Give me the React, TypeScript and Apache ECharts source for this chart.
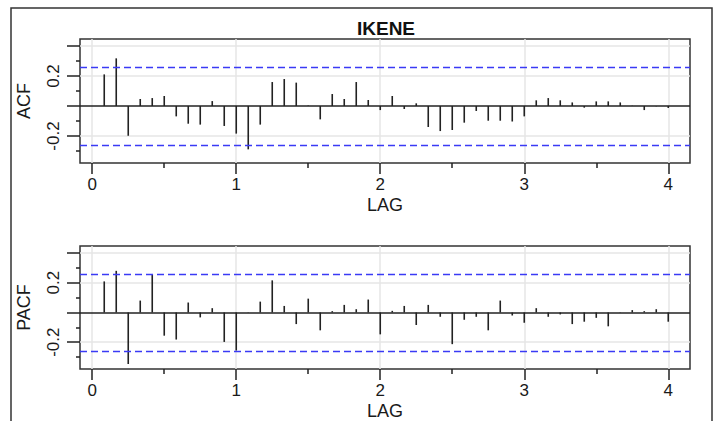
import React, { useEffect, useRef } from "react";
import * as echarts from "echarts";

const TITLE = "IKENE";
const ACF = [
  0.211, 0.318, -0.198, 0.047, 0.053, 0.067, -0.069, -0.118, -0.124, 0.033, -0.133, -0.184,
  -0.289, -0.124, 0.16, 0.18, 0.156, 0.003, -0.089, 0.08, 0.047, 0.16, 0.04, -0.027,
  0.067, -0.02, 0.018, -0.14, -0.167, -0.16, -0.111, -0.033, -0.098, -0.098, -0.104, -0.069,
  0.038, 0.053, 0.038, 0.024, -0.011, 0.031, 0.031, 0.024, 0.002, -0.027, -0.002, -0.013,
];
const PACF = [
  0.209, 0.28, -0.347, 0.08, 0.258, -0.156, -0.182, 0.067, -0.033, 0.029, -0.198, -0.256,
  0.002, 0.073, 0.216, 0.044, -0.078, 0.093, -0.12, 0.009, 0.051, 0.022, 0.087, -0.147,
  0.011, 0.044, -0.084, 0.051, -0.029, -0.213, -0.049, -0.029, -0.12, 0.08, -0.02, -0.069,
  0.029, -0.029, -0.013, -0.078, -0.062, -0.036, -0.093, 0.002, 0.016, 0.009, 0.022, -0.062,
];
const LAGS = ACF.map((_, i) => (i + 1) / 12);
const CONF = 0.257;
const X_TICKS = [0, 1, 2, 3, 4];
const X_MINOR = [0.5, 1.5, 2.5, 3.5];
const Y_TICKS = [-0.2, 0, 0.2, 0.4];
const Y_MINOR = [-0.3, -0.1, 0.1, 0.3];
const Y_LABELS = [-0.2, 0.2];
const H_GRID = [0.4, 0.2, -0.2];
const PANEL_NAMES = ["ACF", "PACF"];

const FONT = "Liberation Sans, Arial, sans-serif";
const X_MIN = -0.085;
const X_MAX = 4.151;
const Y_MIN = -0.38;
const Y_MAX = 0.447;

export default function App() {
  const ref = useRef<HTMLDivElement>(null);
  useEffect(() => {
    if (!ref.current) return;
    const chart = echarts.init(ref.current, undefined, { renderer: "svg" });
    const tops = [39, 246];
    const grids = tops.map((t) => ({
      left: 80,
      right: 29,
      top: t,
      height: 124,
      show: true,
      borderColor: "#333",
      borderWidth: 1.5,
      backgroundColor: "transparent",
    }));
    const xAxis: any[] = [];
    const yAxis: any[] = [];
    const series: any[] = [];
    [ACF, PACF].forEach((vals, g) => {
      xAxis.push({
        type: "value",
        gridIndex: g,
        position: "bottom",
        min: X_MIN,
        max: X_MAX,
        axisLine: { show: false, onZero: false },
        splitLine: { show: false },
        axisTick: { show: true, customValues: X_TICKS, length: 11, lineStyle: { color: "#222", width: 1.5 } },
        axisLabel: { customValues: X_TICKS, fontSize: 17, margin: 13, color: "#1a1a1a", fontFamily: FONT },
        name: "LAG",
        nameLocation: "middle",
        nameGap: 33,
        nameTextStyle: { fontSize: 18, color: "#1a1a1a", fontFamily: FONT },
      });
      xAxis.push({
        type: "value",
        gridIndex: g,
        position: "bottom",
        min: X_MIN,
        max: X_MAX,
        axisLine: { show: false, onZero: false },
        splitLine: { show: false },
        axisTick: { show: true, customValues: X_MINOR, length: 5, lineStyle: { color: "#222", width: 1.5 } },
        axisLabel: { show: false },
      });
      yAxis.push({
        type: "value",
        gridIndex: g,
        position: "left",
        min: Y_MIN,
        max: Y_MAX,
        axisLine: { show: false, onZero: false },
        splitLine: { show: false },
        axisTick: { show: true, customValues: Y_TICKS, length: 13, lineStyle: { color: "#222", width: 1.5 } },
        axisLabel: {
          customValues: Y_LABELS,
          rotate: 90,
          fontSize: 17,
          margin: 18,
          color: "#1a1a1a",
          fontFamily: FONT,
          formatter: (v: number) => String(v),
        },
        name: PANEL_NAMES[g],
        nameLocation: "middle",
        nameRotate: 90,
        nameGap: 47,
        nameTextStyle: { fontSize: 18, color: "#1a1a1a", fontFamily: FONT },
      });
      yAxis.push({
        type: "value",
        gridIndex: g,
        position: "left",
        min: Y_MIN,
        max: Y_MAX,
        axisLine: { show: false, onZero: false },
        splitLine: { show: false },
        axisTick: { show: true, customValues: Y_MINOR, length: 4, lineStyle: { color: "#222", width: 1.5 } },
        axisLabel: { show: false },
      });
      const xi = g * 2;
      const yi = g * 2;
      series.push({
        type: "line",
        xAxisIndex: xi,
        yAxisIndex: yi,
        data: [],
        z: 1,
        silent: true,
        markLine: {
          z: 1,
          silent: true,
          symbol: ["none", "none"],
          label: { show: false },
          lineStyle: { color: "#e6e6e6", width: 1.5, type: "solid" },
          data: [
            ...H_GRID.map((v) => ({ yAxis: v })),
            ...X_TICKS.map((v) => ({ xAxis: v })),
          ],
        },
      });
      series.push({
        type: "bar",
        xAxisIndex: xi,
        yAxisIndex: yi,
        z: 3,
        barWidth: 1.6,
        itemStyle: { color: "#222" },
        data: LAGS.map((l, i) => [l, vals[i]]),
        markLine: {
          z: 4,
          silent: true,
          symbol: ["none", "none"],
          label: { show: false },
          data: [
            { yAxis: 0, lineStyle: { color: "#222", width: 1.5, type: "solid" } },
            { yAxis: CONF, lineStyle: { color: "#3a3af5", width: 1.3, type: [7, 4] } },
            { yAxis: -CONF, lineStyle: { color: "#3a3af5", width: 1.3, type: [7, 4] } },
          ],
        },
      });
    });
    chart.setOption({
      animation: false,
      backgroundColor: "#ffffff",
      textStyle: { fontFamily: FONT },
      title: {
        text: TITLE,
        left: 381,
        top: 14,
        textAlign: "center",
        textStyle: { fontSize: 19, fontWeight: "bold", color: "#111", fontFamily: FONT },
      },
      grid: grids,
      xAxis,
      yAxis,
      series,
      graphic: [
        {
          type: "rect",
          shape: { x: 11, y: 8, width: 701, height: 440 },
          style: { fill: "none", stroke: "#333", lineWidth: 1.5 },
          silent: true,
        },
      ],
    });
    return () => chart.dispose();
  }, []);
  return (
    <div
      ref={ref}
      style={{ position: "fixed", left: 0, top: 0, width: 719, height: 421 }}
    />
  );
}
